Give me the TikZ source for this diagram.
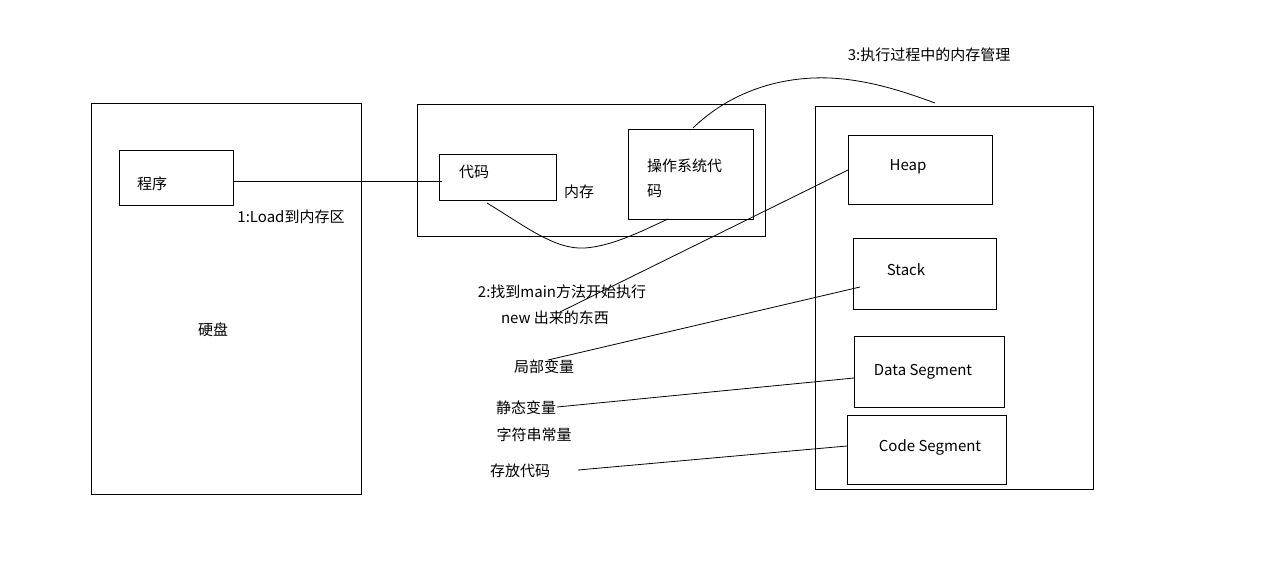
\documentclass[tikz,border=0pt]{standalone}
\usepackage{fontspec}
\setmainfont{Noto Sans CJK SC}
\begin{document}
\begin{tikzpicture}[x=1pt,y=-1pt,
  box/.style={draw,line width=0.8pt,inner sep=0pt,anchor=north west},
  lbl/.style={inner sep=0pt,font=\fontsize{15}{17}\selectfont},
  conn/.style={line width=0.8pt}]
\useasboundingbox (0,0) rectangle (1279,575);
\fill[white] (0,0) rectangle (1279,575);
% boxes
\node[box,minimum width=270pt,minimum height=391pt] (disk) at (91,103) {};
\node[box,minimum width=114pt,minimum height=55pt] (prog) at (119,150) {};
\node[box,minimum width=348pt,minimum height=132pt] (mem) at (417,104) {};
\node[box,minimum width=117pt,minimum height=46pt] (code) at (439,154) {};
\node[box,minimum width=125pt,minimum height=90pt] (os) at (628,129) {};
\node[box,minimum width=278pt,minimum height=383pt] (rmem) at (815,106) {};
\node[box,minimum width=144pt,minimum height=69pt] (heap) at (848,135) {};
\node[box,minimum width=143pt,minimum height=71pt] (stack) at (853,238) {};
\node[box,minimum width=150pt,minimum height=71pt] (data) at (854,336) {};
\node[box,minimum width=159pt,minimum height=69pt] (cseg) at (847,415) {};
% labels
\node[lbl] (tdisk) at (213,330) {硬盘};
\node[lbl] (tprog) at (152,184) {程序};
\node[lbl] (tload) at (291,217) {1:Load到内存区};
\node[lbl] (tcode) at (474,172) {代码};
\node[lbl] (tmem) at (579,192) {内存};
\node[lbl,anchor=west] (tos1) at (647,166) {操作系统代};
\node[lbl,anchor=west] (tos2) at (647,191) {码};
\node[lbl] (tstep3) at (929,55) {3:执行过程中的内存管理};
\node[lbl] (theap) at (908,167) {Heap};
\node[lbl] (tstack) at (906,270) {Stack};
\node[lbl] (tdata) at (923,372) {Data Segment};
\node[lbl] (tcseg) at (930,447) {Code Segment};
\node[lbl] (tstep2) at (562,292) {2:找到main方法开始执行};
\node[lbl] (tnew) at (555,318) {new 出来的东西};
\node[lbl] (tlocal) at (544,367) {局部变量};
\node[lbl] (tstatic) at (526,408) {静态变量};
\node[lbl] (tstr) at (534,435) {字符串常量};
\node[lbl] (tstore) at (520,471) {存放代码};
% connector ends
\coordinate (p1) at (233,181);
\coordinate (p2) at (442,181);
\coordinate (h1) at (848,170);
\coordinate (h2) at (560,312);
\coordinate (s1) at (860,287);
\coordinate (s2) at (548,360);
\coordinate (d1) at (854,378);
\coordinate (d2) at (557,407);
\coordinate (c1) at (847,446);
\coordinate (c2) at (578,470);
\coordinate (w1) at (487,203);
\coordinate (w2) at (668,219);
\coordinate (a1) at (693,128);
\coordinate (a2) at (935,103);
% connectors
\draw[conn] (p1) -- (p2);
\draw[conn] (h1) -- (h2);
\draw[conn] (s1) -- (s2);
\draw[conn] (d1) -- (d2);
\draw[conn] (c1) -- (c2);
\draw[conn] (w1) .. controls (525,226) and (555,250) .. (585,248)
  .. controls (612,246) and (640,232) .. (w2);
\draw[conn] (a1) .. controls (730,92) and (780,76) .. (830,78)
  .. controls (870,80) and (905,92) .. (a2);
\end{tikzpicture}
\end{document}
